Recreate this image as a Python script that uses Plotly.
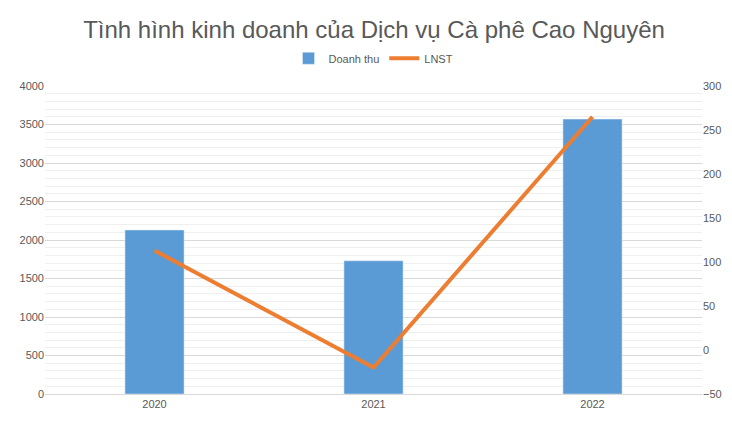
import plotly.graph_objects as go

years = ["2020", "2021", "2022"]
doanh_thu = [2130, 1730, 3570]
lnst = [113, -20, 265]

fig = go.Figure()
fig.add_trace(go.Bar(x=years, y=doanh_thu, name="Doanh thu", marker_color="#5b9bd5", width=0.27))
fig.add_trace(go.Scatter(x=years, y=lnst, name="LNST", mode="lines", yaxis="y2",
                         line=dict(color="#ed7d31", width=4)))

fig.update_layout(
    width=732, height=440,
    paper_bgcolor="white", plot_bgcolor="white",
    font=dict(family="Liberation Sans, Arial", color="#595959", size=11),
    title=dict(text="Tình hình kinh doanh của Dịch vụ Cà phê Cao Nguyên", x=0.5, y=0.95,
               yanchor="middle", xanchor="center", font=dict(size=24, color="#595959")),
    legend=dict(orientation="h", x=0.5, xanchor="center", y=1.09, yanchor="middle",
                font=dict(size=11, color="#595959")),
    margin=dict(l=35, r=38, t=78, b=54),
    xaxis=dict(showline=True, linecolor="#d9d9d9", ticks="", tickfont=dict(color="#595959")),
    yaxis=dict(range=[0, 4000], dtick=500, gridcolor="#d9d9d9", zeroline=False,
               tickfont=dict(color="#595959"),
               minor=dict(dtick=100, showgrid=True, gridcolor="#efefef")),
    yaxis2=dict(range=[-50, 300], dtick=50, overlaying="y", side="right",
                showgrid=False, zeroline=False, tickfont=dict(color="#595959")),
    bargap=0.5,
)

fig.write_html("out.html")
